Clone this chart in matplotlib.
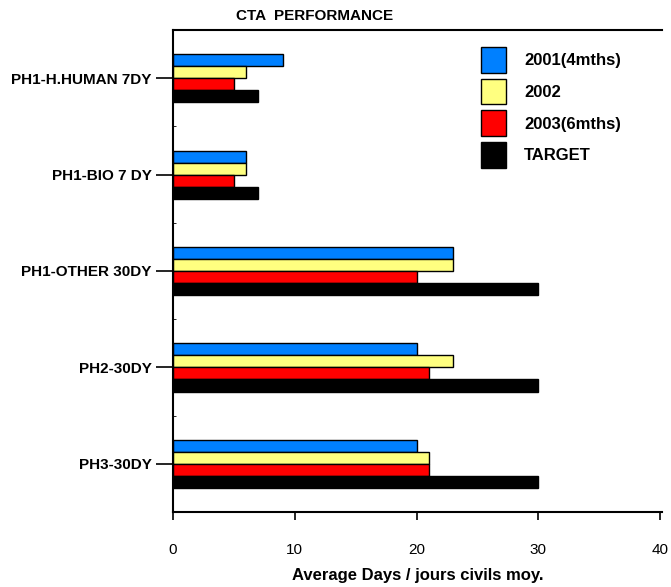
import matplotlib.pyplot as plt
import numpy as np
from matplotlib import font_manager

names = {f.name for f in font_manager.fontManager.ttflist}
fam = 'Liberation Sans Narrow' if 'Liberation Sans Narrow' in names else 'Liberation Sans'
plt.rcParams['font.family'] = [fam, 'DejaVu Sans']

categories = ['PH1-H.HUMAN 7DY', 'PH1-BIO 7 DY', 'PH1-OTHER 30DY', 'PH2-30DY', 'PH3-30DY']
series = ['2001(4mths)', '2002', '2003(6mths)', 'TARGET']
v2001 = [9, 6, 23, 20, 20]
v2002 = [6, 6, 23, 23, 21]
v2003 = [5, 5, 20, 21, 21]
target = [7, 7, 30, 30, 30]
colors = ['#0080ff', '#ffff80', '#ff0000', '#000000']

fig = plt.figure(figsize=(6.71, 5.87), dpi=100)
ax = fig.add_axes([173/671, 1-512/587, (662-173)/671, (512-30)/587])

y = np.arange(len(categories))
h = 0.125
for i, (vals, c, lab) in enumerate(zip([v2001, v2002, v2003, target], colors, series)):
    ax.barh(y - 1.5*h + i*h, vals, height=h, color=c, edgecolor='black', linewidth=1, label=lab)

ax.set_ylim(len(categories) - 0.5, -0.5)
ax.set_xlim(0, 40.16)
ax.set_xticks([0, 10, 20, 30, 40])
ax.set_yticks(y)
ax.set_yticklabels(categories, fontsize=11, fontweight='bold')
ax.set_yticks(np.arange(len(categories) - 1) + 0.5, minor=True)
ax.tick_params(axis='y', which='minor', direction='in', length=2)
ax.tick_params(axis='y', which='major', length=12, width=1.2)
ax.tick_params(axis='x', length=6, width=1.2, labelsize=11, pad=16)
ax.spines['right'].set_visible(False)
for s in ['left', 'top', 'bottom']:
    ax.spines[s].set_linewidth(1.5)

ax.set_xlabel('Average Days / jours civils moy.', fontsize=12, fontweight='bold', labelpad=8)
fig.text(315/671, 1-16/587, 'CTA  PERFORMANCE', ha='center', va='center', fontsize=11, fontweight='bold')

leg = ax.legend(loc='upper left', bbox_to_anchor=(0.6, 0.996), frameon=False, fontsize=12,
                handlelength=1.45, handleheight=2.0, labelspacing=0.36, handletextpad=1.1)
for t in leg.get_texts():
    t.set_fontweight('bold')

fig.savefig('out.png', dpi=100)
